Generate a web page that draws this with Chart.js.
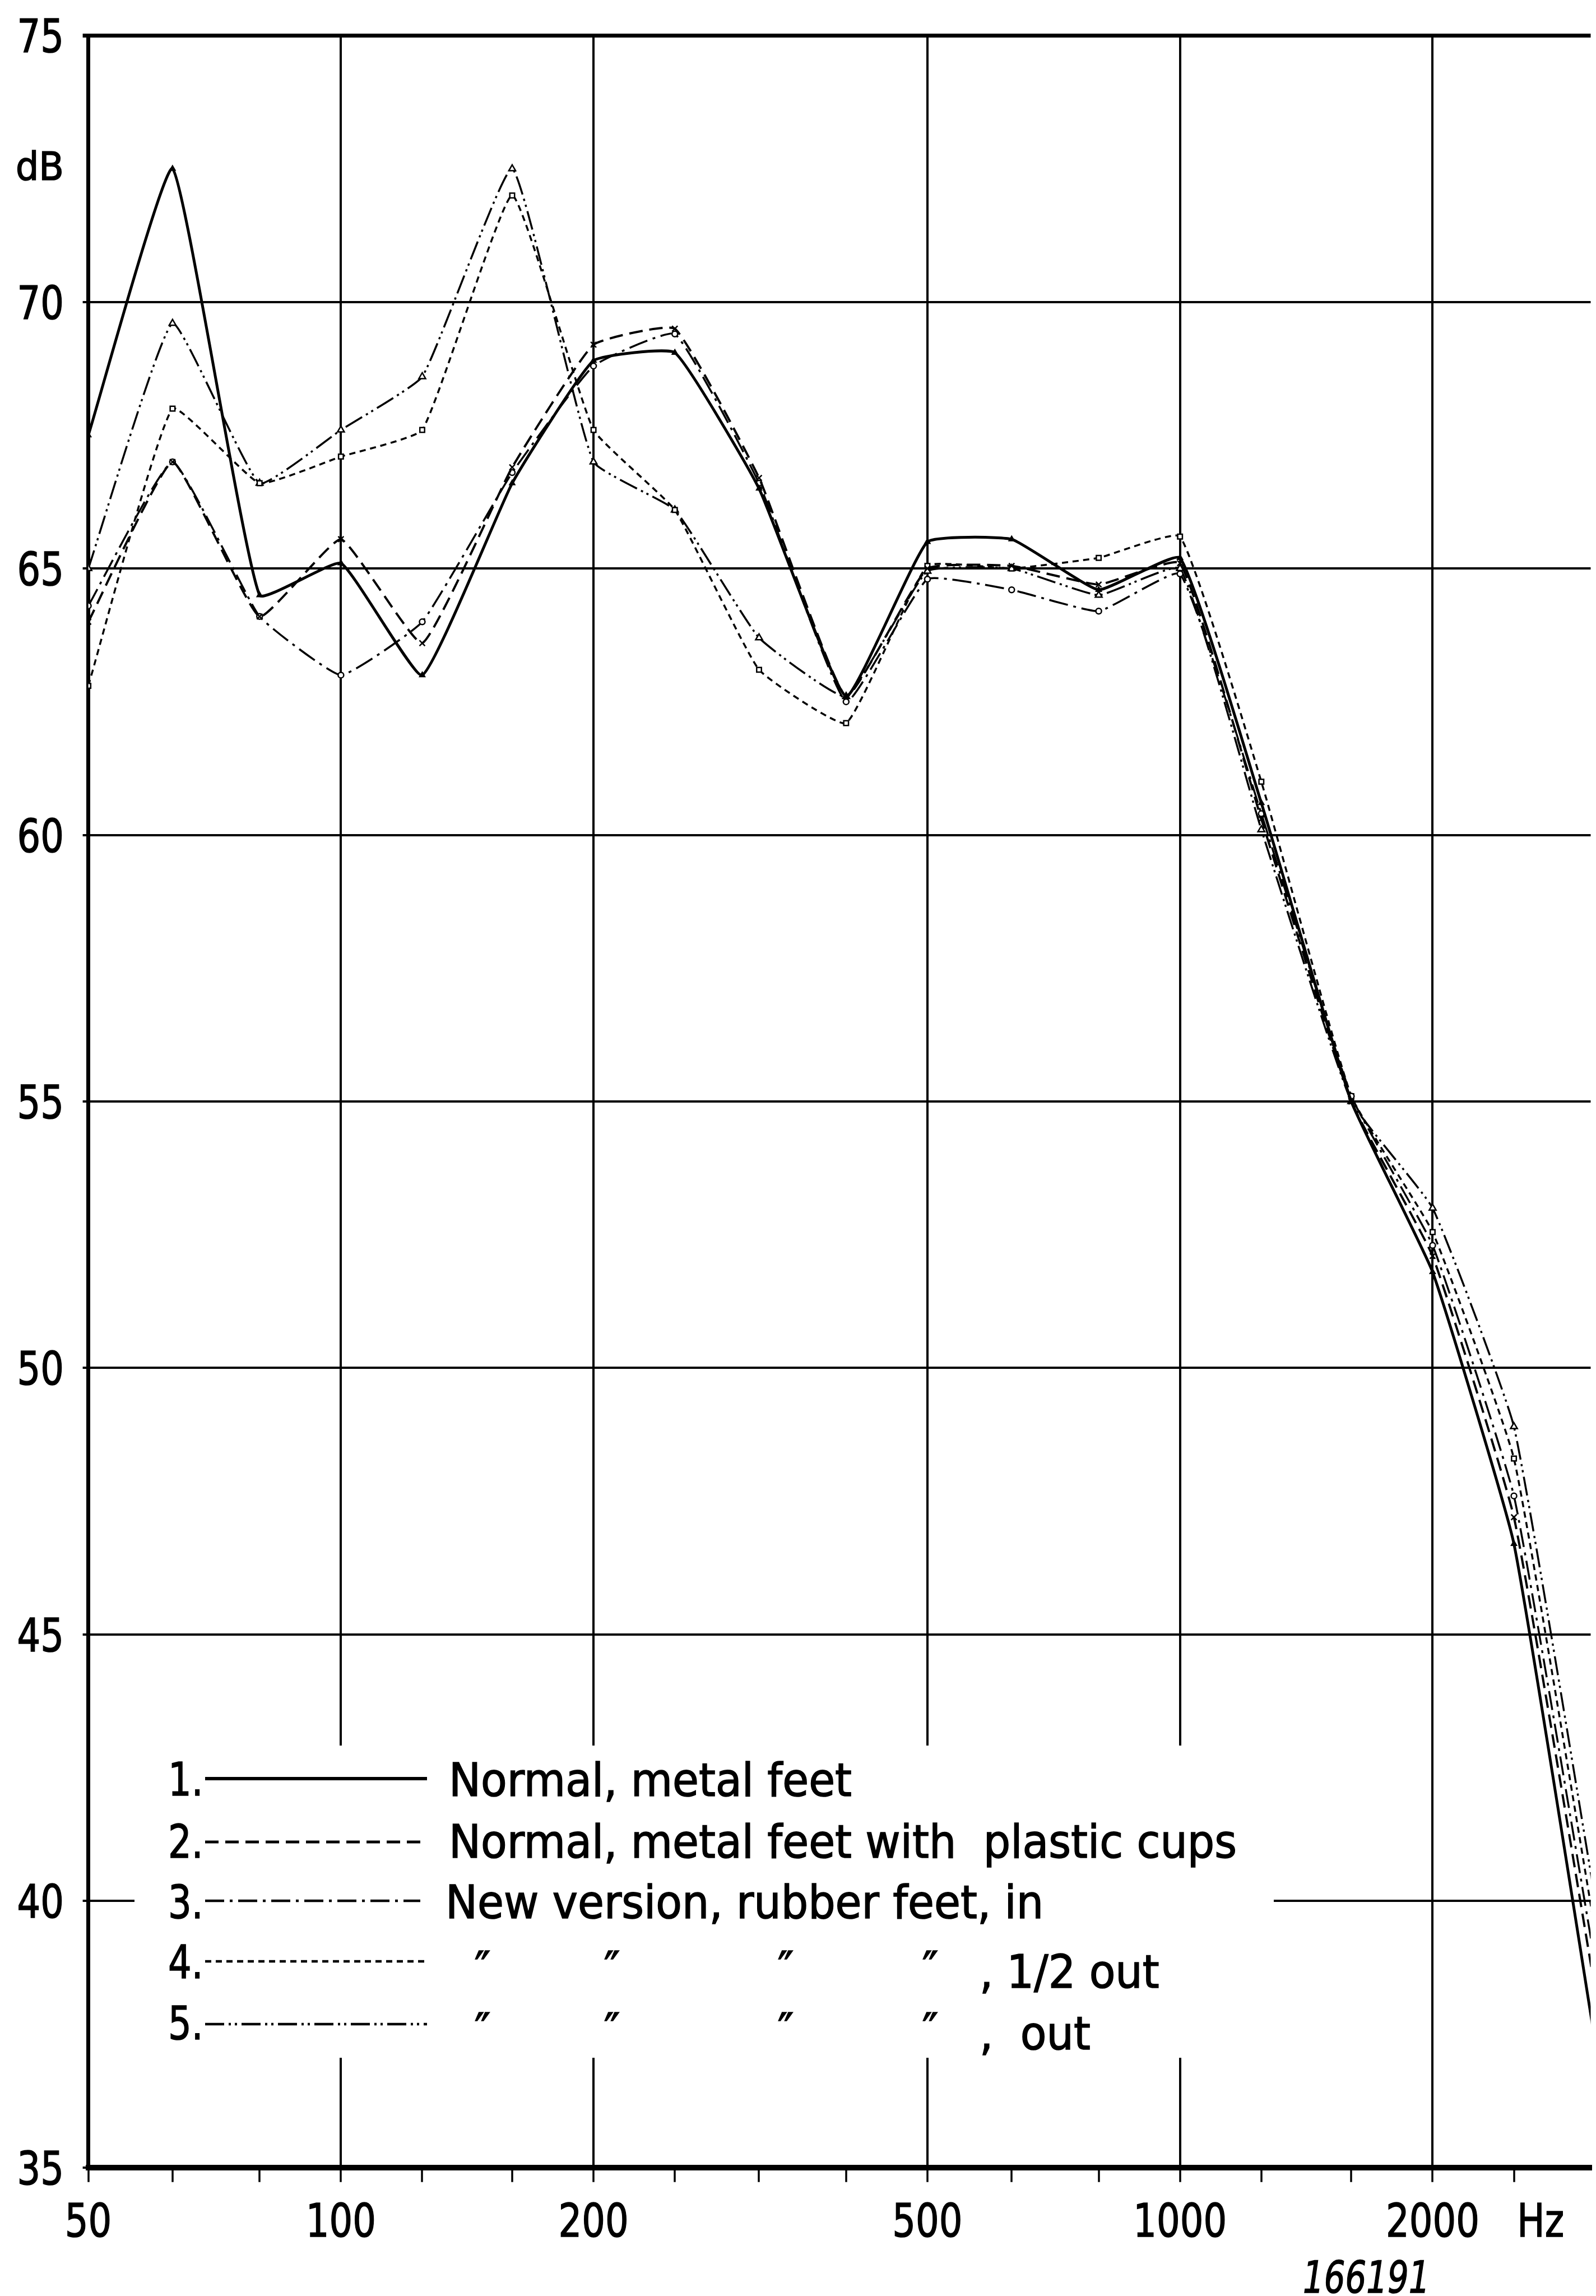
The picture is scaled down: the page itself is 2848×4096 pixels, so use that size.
<!DOCTYPE html>
<html>
<head>
<meta charset="utf-8">
<script src="https://cdn.jsdelivr.net/npm/chart.js@4.4.1/dist/chart.umd.min.js"></script>
<style>
  html, body { margin: 0; padding: 0; background: #fff; }
  canvas { display: block; }
</style>
</head>
<body>
<canvas id="chart" width="2848" height="4096"></canvas>
<script>
// third-octave band centres (Hz)
var freqs = [50, 63, 80, 100, 125, 160, 200, 250, 315, 400, 500, 630, 800, 1000, 1250, 1600, 2000, 2500, 3150];

// levels in dB
var normalFeet  = [67.5, 72.5, 64.5, 65.1, 63.0, 66.6, 68.9, 69.05, 66.5, 62.6, 65.5, 65.55, 64.6, 65.2, 60.6, 55.0, 51.8, 46.7, 37.0];
var plasticCups = [64.0, 67.0, 64.1, 65.55, 63.6, 66.9, 69.2, 69.5, 66.7, 62.6, 65.0, 65.05, 64.7, 65.1, 60.3, 55.0, 52.1, 47.2, 38.0];
var rubberIn    = [64.3, 67.0, 64.1, 63.0, 64.0, 66.8, 68.8, 69.4, 66.6, 62.5, 64.8, 64.6, 64.2, 64.9, 60.4, 55.1, 52.3, 47.6, 38.5];
var rubberHalf  = [62.8, 68.0, 66.6, 67.1, 67.6, 72.0, 67.6, 66.1, 63.1, 62.1, 65.05, 65.0, 65.2, 65.6, 61.0, 55.1, 52.55, 48.3, 39.1];
var rubberOut   = [65.0, 69.6, 66.6, 67.6, 68.6, 72.5, 67.0, 66.1, 63.7, 62.6, 64.95, 65.0, 64.5, 65.0, 60.1, 55.0, 53.0, 48.9, 39.7];

var yTicks = [35, 40, 45, 50, 55, 60, 65, 70, 75];
var xMajor = [50, 100, 200, 500, 1000, 2000];
var xMinor = [63, 80, 125, 160, 250, 315, 400, 630, 800, 1250, 1600, 2500];
var xLabels = ["50", "100", "200", "500", "1000", "2000"];

var seriesNames = [
  "Normal, metal feet",
  "Normal, metal feet with  plastic cups",
  "New version, rubber feet, in",
  "New version, rubber feet, 1/2 out",
  "New version, rubber feet, out"
];

var INK = "#000";
var FONT = '"DejaVu Sans"';

function pts(arr) {
  return freqs.map(function (f, i) { return { x: f, y: arr[i] }; });
}

function series(i, arr, dash, width, style, radius) {
  return {
    label: seriesNames[i],
    data: pts(arr),
    borderColor: INK,
    borderWidth: width,
    borderDash: dash,
    pointStyle: style,
    pointRadius: radius,
    pointBorderWidth: 2.5,
    pointBorderColor: INK,
    pointBackgroundColor: style === "triangle" && i === 0 ? INK : "#fff",
    tension: 0.12,
    fill: false
  };
}

// text helper, squeezes the glyphs horizontally like the stencil lettering
function say(ctx, s, x, y, align, size, sq, italic) {
  ctx.save();
  ctx.font = (italic ? "italic " : "") + size + "px " + FONT;
  var w = ctx.measureText(s).width * sq;
  var x0 = align === "right" ? x - w : align === "center" ? x - w / 2 : x;
  ctx.translate(x0, y);
  ctx.scale(sq, 1);
  ctx.fillStyle = INK;
  ctx.strokeStyle = INK;
  ctx.lineWidth = 1.6;
  ctx.textAlign = "left";
  ctx.textBaseline = "alphabetic";
  ctx.fillText(s, 0, 0);
  ctx.strokeText(s, 0, 0);
  ctx.restore();
}

var paper = {
  id: "paper",
  beforeDatasetsDraw: function (chart) {
    // blank patch behind the legend
    var ctx = chart.ctx;
    ctx.save();
    ctx.fillStyle = "#fff";
    ctx.fillRect(240, 3114, 2273 - 240, 3671 - 3114);
    ctx.restore();
  },
  afterDraw: function (chart) {
    var ctx = chart.ctx;
    var xs = chart.scales.x, ys = chart.scales.y;
    var size = 82;

    ctx.save();
    ctx.font = size + "px " + FONT;
    var numSq = 167 / ctx.measureText("1000").width;
    var txtSq = 1406 / ctx.measureText(seriesNames[1]).width;
    ctx.restore();

    // y tick labels
    yTicks.forEach(function (v) {
      say(ctx, String(v), 114, ys.getPixelForValue(v) + 30, "right", size, numSq);
    });
    say(ctx, "dB", 114, ys.getPixelForValue(72.55) + 25, "right", 70, txtSq);

    // x tick labels
    xMajor.forEach(function (v, i) {
      say(ctx, xLabels[i], xs.getPixelForValue(v), 3990, "center", size, numSq);
    });
    say(ctx, "Hz", xs.getPixelForValue(2690), 3990, "center", size, numSq);

    say(ctx, "166191", 2325, 4090, "left", 78, numSq * 0.95, true);

    // legend
    var rows = [3173, 3286, 3391, 3499, 3611];
    var numBase = [3203, 3314, 3422, 3529, 3638];
    chart.data.datasets.forEach(function (ds, i) {
      say(ctx, (i + 1) + ".", 300, numBase[i], "left", size, numSq);
      ctx.save();
      ctx.strokeStyle = INK;
      ctx.lineWidth = ds.borderWidth + 1;
      ctx.setLineDash(ds.borderDash);
      ctx.beginPath();
      ctx.moveTo(366, rows[i]);
      ctx.lineTo(i === 2 ? 750 : 762, rows[i]);
      ctx.stroke();
      ctx.restore();
    });
    say(ctx, seriesNames[0], 801, 3204, "left", size, txtSq);
    say(ctx, seriesNames[1], 801, 3314, "left", size, txtSq);
    say(ctx, seriesNames[2], 795, 3422, "left", size, txtSq);
    [861, 1092, 1402, 1660].forEach(function (x) {
      say(ctx, "\u2033", x, 3540, "center", size, txtSq);
      say(ctx, "\u2033", x, 3650, "center", size, txtSq);
    });
    say(ctx, ", 1/2 out", 1748, 3546, "left", size, txtSq);
    say(ctx, ",  out", 1748, 3656, "left", size, txtSq);
  }
};

new Chart(document.getElementById("chart"), {
  type: "line",
  data: {
    datasets: [
      series(0, normalFeet, [], 5, "triangle", 5),
      series(1, plasticCups, [24, 12], 4, "crossRot", 7),
      series(2, rubberIn, [34, 10, 5, 10], 3.5, "circle", 5),
      series(3, rubberHalf, [11, 8], 3.5, "rect", 6),
      series(4, rubberOut, [34, 8, 4, 7, 4, 8], 3.5, "triangle", 7)
    ]
  },
  options: {
    responsive: false,
    animation: false,
    devicePixelRatio: 1,
    layout: { padding: { top: 63.4, left: 0, right: 0, bottom: 0 } },
    plugins: { legend: { display: false }, tooltip: { enabled: false } },
    scales: {
      x: {
        type: "logarithmic",
        min: 50,
        max: 3086,
        afterBuildTicks: function (s) {
          s.ticks = xMajor.concat(xMinor).sort(function (a, b) { return a - b; })
            .map(function (v) { return { value: v, major: xMajor.indexOf(v) >= 0 }; });
        },
        afterFit: function (s) { s.height = 4096 - 3866.7; },
        ticks: { display: false },
        grid: {
          color: function (c) { return c.tick && xMajor.indexOf(c.tick.value) >= 0 ? INK : "rgba(0,0,0,0)"; },
          tickColor: INK,
          lineWidth: 4,
          tickWidth: 3.5,
          tickLength: 26
        },
        border: { color: INK, width: 10 }
      },
      y: {
        type: "linear",
        min: 35,
        max: 75,
        afterBuildTicks: function (s) {
          s.ticks = yTicks.map(function (v) { return { value: v }; });
        },
        afterFit: function (s) { s.width = 157.6; },
        ticks: { display: false },
        grid: {
          color: INK,
          lineWidth: function (c) { return c.tick && c.tick.value === 75 ? 7 : 4; },
          tickLength: 10
        },
        border: { color: INK, width: 7 }
      }
    }
  },
  plugins: [paper]
});
</script>
</body>
</html>
